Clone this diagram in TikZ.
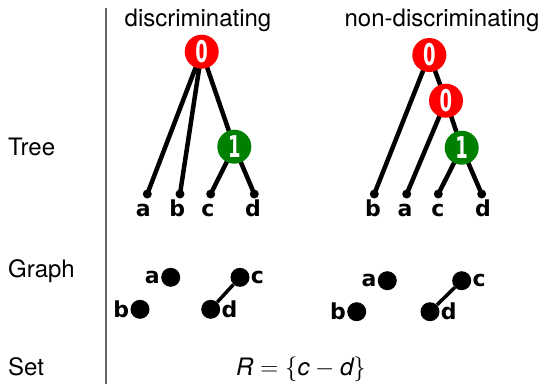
\documentclass[tikz,border=0pt]{standalone}
\usepackage{fontspec}
\setmainfont{TeX Gyre Heros}
\newfontfamily\dvfont{DejaVu Sans}
\newfontfamily\numfont{DejaVu Sans}[FakeStretch=0.6]
\usetikzlibrary{backgrounds}

\begin{document}
\begin{tikzpicture}[x=1pt, y=-1pt, every node/.style={font=\fontsize{24}{28}\selectfont}]
\tikzset{
  v/.style={circle, fill, inner sep=0pt, minimum size=9pt},
  gv/.style={circle, fill, inner sep=0pt, minimum size=19pt, label distance=0pt},
  bub/.style={circle, inner sep=0pt, minimum size=34pt, text=white, font=\numfont\bfseries\fontsize{30}{30}\selectfont},
  zero/.style={bub, fill=red},
  one/.style={bub, fill=green!50!black},
  lab/.style={inner sep=1pt, font=\dvfont\bfseries\fontsize{22}{22}\selectfont},
  edge/.style={line width=4.5pt},
  gedge/.style={line width=3.5pt}
}
\useasboundingbox (0,0) rectangle (547,384);

% --- row names and divider ---
\node[anchor=base west, inner sep=0pt] (tree) at (8,155) {Tree};
\node[anchor=base west, inner sep=0pt] (graph) at (8,277) {Graph};
\node[anchor=base west, inner sep=0pt] (set) at (8,375) {Set};
\coordinate (top) at (106,8);
\coordinate (bot) at (106,384);
\draw[gray!80!black, line width=1.2pt] (top) -- (bot);

% --- discriminating tree ---
\node[anchor=base] (ptitle) at (198,26) {discriminating};
\node[zero] (p0) at (201.7,51.7) {0};
\node[one] (p1) at (234.3,146.7) {1};
\node[v] (pa) at (147.3,194) {};
\node[v] (pb) at (180,194) {};
\node[v] (pc) at (210.7,194) {};
\node[v] (pd) at (254.3,194) {};
\node[lab, anchor=base] (pla) at (143.3,216) {a};
\node[lab, anchor=base] (plb) at (177.3,216) {b};
\node[lab, anchor=base] (plc) at (208,216) {c};
\node[lab, anchor=base] (pld) at (253,216) {d};
\begin{scope}[on background layer]
  \draw[edge] (p0.center) -- (pa.center);
  \draw[edge] (p0.center) -- (pb.center);
  \draw[edge] (p0.center) -- (p1.center);
  \draw[edge] (p1.center) -- (pc.center);
  \draw[edge] (p1.center) -- (pd.center);
\end{scope}

% --- non-discriminating tree ---
\node[anchor=base] (qtitle) at (442,26) {non-discriminating};
\node[zero] (q0) at (429.3,55) {0};
\node[zero] (qm) at (446,100.7) {0};
\node[one] (q1) at (461.7,147.7) {1};
\node[v] (qb) at (374.3,194) {};
\node[v] (qa) at (406.7,194) {};
\node[v] (qc) at (438.3,194) {};
\node[v] (qd) at (481.7,194) {};
\node[lab, anchor=base] (qlb) at (373,216) {b};
\node[lab, anchor=base] (qla) at (405,216) {a};
\node[lab, anchor=base] (qlc) at (438,216) {c};
\node[lab, anchor=base] (qld) at (483,216) {d};
\begin{scope}[on background layer]
  \draw[edge] (q0.center) -- (qb.center);
  \draw[edge] (q0.center) -- (qm.center);
  \draw[edge] (qm.center) -- (qa.center);
  \draw[edge] (qm.center) -- (q1.center);
  \draw[edge] (q1.center) -- (qc.center);
  \draw[edge] (q1.center) -- (qd.center);
\end{scope}

% --- graphs ---
\node[gv, label={[lab]left:a}] (ga) at (170.7,277.3) {};
\node[gv, label={[lab]left:b}] (gb) at (140,309.3) {};
\node[gv, label={[lab]right:c}] (gc) at (240,277.3) {};
\node[gv, label={[lab]right:d}] (gd) at (210.7,309.3) {};
\draw[gedge] (gc) -- (gd);

\node[gv, label={[lab]left:a}] (ha) at (387.3,280.7) {};
\node[gv, label={[lab]left:b}] (hb) at (356.7,311.7) {};
\node[gv, label={[lab]right:c}] (hc) at (461.7,280.7) {};
\node[gv, label={[lab]right:d}] (hd) at (430,311.7) {};
\draw[gedge] (hc) -- (hd);

% --- set ---
\node[anchor=base] (rel) at (301,375) {$\textit{R} = \{\textit{c} - \textit{d}\}$};
\end{tikzpicture}
\end{document}
